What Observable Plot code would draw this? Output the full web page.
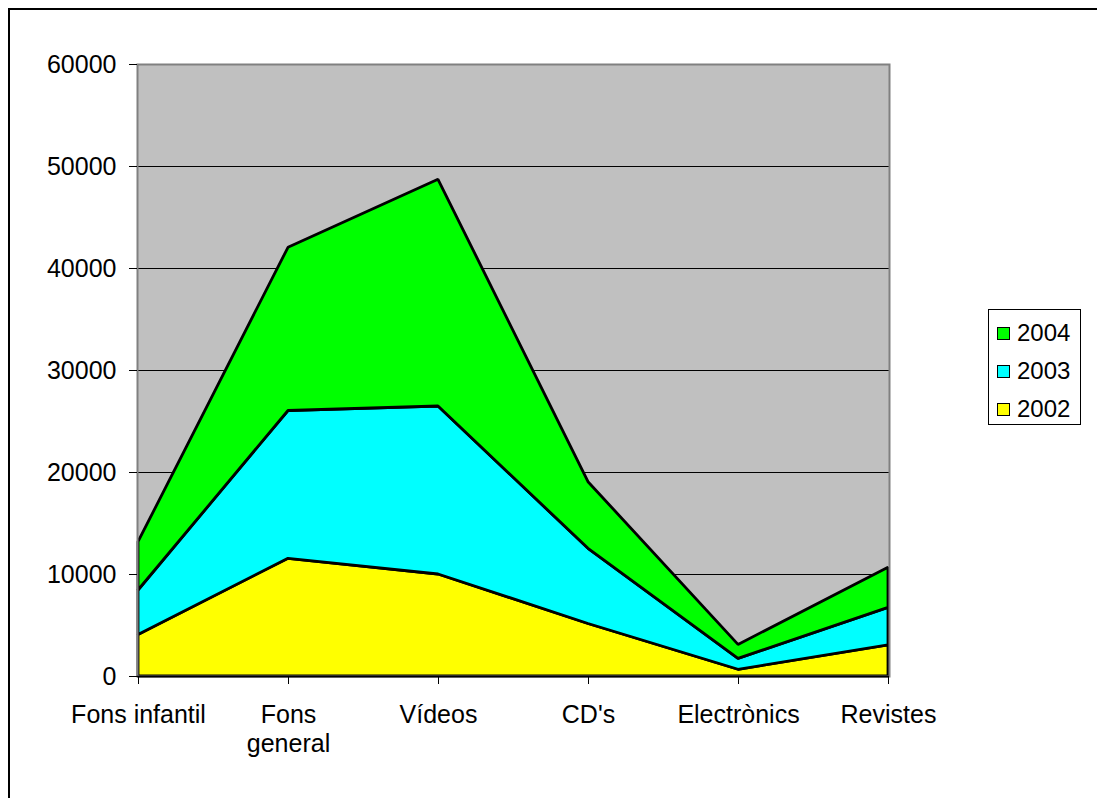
<!DOCTYPE html>
<html>
<head>
<meta charset="utf-8">
<script src="https://cdn.jsdelivr.net/npm/d3@7"></script>
<script src="https://cdn.jsdelivr.net/npm/@observablehq/plot@0.6"></script>
<style>
  html, body { margin: 0; padding: 0; background: #fff; overflow: hidden; width: 1097px; height: 798px; }
  #wrap { position: relative; width: 1097px; height: 798px; font-family: "Liberation Sans", Arial, sans-serif; }
  #border { position: absolute; left: 8px; top: 8px; width: 1200px; height: 900px; border: 2px solid #000; box-sizing: border-box; }
  #chart { position: absolute; left: 0; top: 0; }
  #legend { position: absolute; left: 988px; top: 309px; width: 93px; height: 116px; box-sizing: border-box; border: 1px solid #000; background: #fff; }
  .item { position: absolute; left: 8px; height: 26px; display: flex; align-items: center; font-size: 24px; color: #000; }
  .sw { width: 11px; height: 11px; border: 1.5px solid #000; margin-right: 7px; }
</style>
</head>
<body>
<div id="wrap">
  <div id="border"></div>
  <div id="chart"></div>
  <div id="legend"></div>
</div>
<script>
const categories = ["Fons infantil", "Fons general", "Vídeos", "CD's", "Electrònics", "Revistes"];
const tickLabels = ["Fons infantil", "Fons\ngeneral", "Vídeos", "CD's", "Electrònics", "Revistes"];
const years = ["2002", "2003", "2004"];
const values2002 = [4080, 11540, 10000, 5150, 660, 3040];
const values2003 = [4350, 14490, 16470, 7370, 1070, 3690];
const values2004 = [4740, 16000, 22230, 6530, 1370, 3920];
const colors = ["#ffff00", "#00ffff", "#00ff00"];
const yTicks = [0, 10000, 20000, 30000, 40000, 50000, 60000];

const series = [values2002, values2003, values2004];
const data = [];
years.forEach((yr, i) => categories.forEach((c, j) => data.push({year: yr, cat: c, value: series[i][j]})));

const font = "Liberation Sans, Arial, sans-serif";
const chart = Plot.plot({
  width: 1097,
  height: 798,
  marginLeft: 137,
  marginRight: 208,
  marginTop: 64,
  marginBottom: 122,
  style: {background: "transparent", fontFamily: font, color: "#000"},
  x: {type: "point", domain: categories, padding: 0},
  y: {domain: [0, 60000]},
  color: {domain: years, range: colors},
  marks: [
    Plot.frame({fill: "#c0c0c0", stroke: null}),
    Plot.gridY(yTicks, {stroke: "#000", strokeOpacity: 1, strokeWidth: 1}),
    Plot.areaY(data, {x: "cat", y: "value", z: "year", fill: "year", order: null,
      stroke: "#000", strokeWidth: 2.8, strokeLinejoin: "miter", fillOpacity: 1}),
    Plot.frame({stroke: "#808080", strokeWidth: 2}),
    Plot.axisY({ticks: yTicks, tickSize: 8, tickPadding: 13, fontSize: 25, tickFormat: d => String(d), label: null, stroke: "#000"}),
    Plot.axisX({tickSize: 8, tickPadding: 18, fontSize: 25, lineHeight: 1.15, label: null,
      tickFormat: (d, i) => tickLabels[categories.indexOf(d)]}),
    Plot.ruleY([0], {stroke: "#000", strokeWidth: 1.5})
  ]
});
document.getElementById("chart").appendChild(chart);

const legend = document.getElementById("legend");
const legendOrder = [2, 1, 0];
const tops = [10, 48, 86];
legendOrder.forEach((k, i) => {
  const it = document.createElement("div");
  it.className = "item";
  it.style.top = tops[i] + "px";
  const sw = document.createElement("div");
  sw.className = "sw";
  sw.style.background = colors[k];
  it.appendChild(sw);
  it.appendChild(document.createTextNode(years[k]));
  legend.appendChild(it);
});
</script>
</body>
</html>
